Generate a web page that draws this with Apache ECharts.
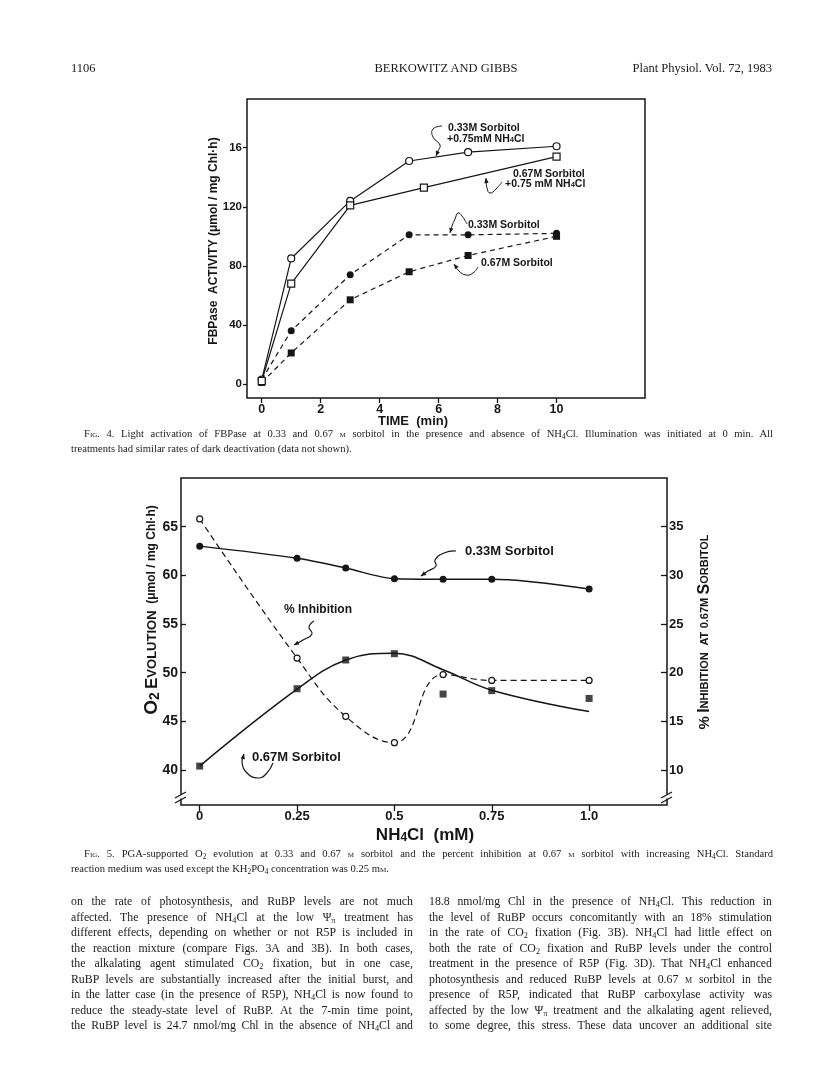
<!DOCTYPE html>
<html>
<head>
<meta charset="utf-8">
<script src="https://cdn.jsdelivr.net/npm/echarts@6.0.0/dist/echarts.min.js"></script>
<style>
body { margin: 0; background: #fff; }
#page { position: relative; width: 816px; height: 1073px; overflow: hidden; font-family: "Liberation Serif", "DejaVu Serif", serif; color: #1a1a1a; }
#chart { position: absolute; left: 0; top: 0; width: 816px; height: 1073px; }
.t, .jl { position: absolute; white-space: nowrap; z-index: 2; }
.cap { font-size: 10.6px; line-height: 14px; }
.body { font-size: 11.8px; line-height: 15px; }
.hd { font-size: 12.5px; line-height: 15px; }
sub { font-size: 70%; vertical-align: -0.25em; line-height: 0; }
.sc { font-variant: small-caps; }
</style>
</head>
<body>
<div id="page">
  <div id="chart"></div>

  <div class="t hd" style="left:71px; top:61px;">1106</div>
  <div class="t hd" style="left:346px; top:61px; width:200px; text-align:center;">BERKOWITZ AND GIBBS</div>
  <div class="t hd" style="left:572px; top:61px; width:200px; text-align:right;">Plant Physiol. Vol. 72, 1983</div>

  <div class="jl cap" data-w="689" style="left:84px; top:427px;"><span><span class="sc">Fig.</span> 4. Light activation of FBPase at 0.33 and 0.67 <span class="sc">m</span> sorbitol in the presence and absence of NH<sub>4</sub>Cl. Illumination was initiated at 0 min. All</span></div>
  <div class="t cap" style="left:71px; top:442px;">treatments had similar rates of dark deactivation (data not shown).</div>

  <div class="jl cap" data-w="689" style="left:84px; top:847px;"><span><span class="sc">Fig.</span> 5. PGA-supported O<sub>2</sub> evolution at 0.33 and 0.67 <span class="sc">m</span> sorbitol and the percent inhibition at 0.67 <span class="sc">m</span> sorbitol with increasing NH<sub>4</sub>Cl. Standard</span></div>
  <div class="t cap" style="left:71px; top:862px;">reaction medium was used except the KH<sub>2</sub>PO<sub>4</sub> concentration was 0.25 m<span class="sc">m</span>.</div>

  <div id="colL"></div>
  <div id="colR"></div>
</div>

<script>
// 正文两栏，每行单独排版
var leftLines = [
  'on the rate of photosynthesis, and RuBP levels are not much',
  'affected. The presence of NH<sub>4</sub>Cl at the low &Psi;<sub>&pi;</sub> treatment has',
  'different effects, depending on whether or not R5P is included in',
  'the reaction mixture (compare Figs. 3A and 3B). In both cases,',
  'the alkalating agent stimulated CO<sub>2</sub> fixation, but in one case,',
  'RuBP levels are substantially increased after the initial burst, and',
  'in the latter case (in the presence of R5P), NH<sub>4</sub>Cl is now found to',
  'reduce the steady-state level of RuBP. At the 7-min time point,',
  'the RuBP level is 24.7 nmol/mg Chl in the absence of NH<sub>4</sub>Cl and'
];
var rightLines = [
  '18.8 nmol/mg Chl in the presence of NH<sub>4</sub>Cl. This reduction in',
  'the level of RuBP occurs concomitantly with an 18% stimulation',
  'in the rate of CO<sub>2</sub> fixation (Fig. 3B). NH<sub>4</sub>Cl had little effect on',
  'both the rate of CO<sub>2</sub> fixation and RuBP levels under the control',
  'treatment in the presence of R5P (Fig. 3D). That NH<sub>4</sub>Cl enhanced',
  'photosynthesis and reduced RuBP levels at 0.67 <span class="sc">m</span> sorbitol in the',
  'presence of R5P, indicated that RuBP carboxylase activity was',
  'affected by the low &Psi;<sub>&pi;</sub> treatment and the alkalating agent relieved,',
  'to some degree, this stress. These data uncover an additional site'
];

// 图4 FBPase 活性
var timeMin = [0, 1, 3, 5, 7, 10];
var fbp033NH4 = [3, 85, 124, 151, 157, 161];
var time067NH4 = [0, 1, 3, 5.5, 10];
var fbp067NH4 = [2, 68, 121, 133, 154];
var fbp033 = [3, 36, 74, 101, 101, 102];
var fbp067 = [1, 21, 57, 76, 87, 100];
var fig4XTicks = [0, 2, 4, 6, 8, 10];
var fig4YTicks = [0, 40, 80, 120, 160];

// 图5 O2 释放与抑制率
var nh4cl = [0, 0.25, 0.375, 0.5, 0.625, 0.75, 1.0];
var o2Sorb033 = [63.0, 61.75, 60.75, 59.65, 59.6, 59.6, 58.6];
var o2Sorb067 = [40.4, 48.35, 51.3, 51.95, 47.8, 48.15, 47.35];
var o2Sorb067Fit = [40.4, 48.3, 51.3, 52.0, 50.3, 48.2, 46.0];
var inhibition = [35.8, 21.5, 15.5, 12.8, 19.8, 19.2, 19.2];
var fig5XTicks = [0, 0.25, 0.5, 0.75, 1.0];
var fig5YTicks = [40, 45, 50, 55, 60, 65];
var fig5Y2Ticks = [10, 15, 20, 25, 30, 35];

function addLines(id, lines, left, width, top0, step) {
    var box = document.getElementById(id);
    lines.forEach(function (s, i) {
        var d = document.createElement('div');
        d.className = 'jl body';
        d.setAttribute('data-w', width);
        d.style.left = left + 'px';
        d.style.top = (top0 + i * step) + 'px';
        d.innerHTML = '<span>' + s + '</span>';
        box.appendChild(d);
    });
}
addLines('colL', leftLines, 71, 342, 894, 15.5);
addLines('colR', rightLines, 429, 343, 894, 15.5);

// 两端对齐：调整词距
document.querySelectorAll('.jl').forEach(function (d) {
    var sp = d.firstChild;
    var w = sp.getBoundingClientRect().width;
    var n = sp.textContent.split(' ').length - 1;
    var target = +d.getAttribute('data-w');
    if (n > 0) sp.style.wordSpacing = ((target - w) / n) + 'px';
});

var SANS = '"Liberation Sans", Arial, Helvetica, sans-serif';
var INK = '#161616';

function pairs(xs, ys) {
    return xs.map(function (x, i) { return [x, ys[i]]; });
}

// 弯曲箭头
function squiggle(pts, w) {
    var n = pts.length, a = pts[n - 1], b = pts[n - 2];
    var ang = Math.atan2(a[1] - b[1], a[0] - b[0]);
    var L = 5, W = 2.2;
    var c = Math.cos(ang), s = Math.sin(ang);
    var head = [a, [a[0] - L * c + W * s, a[1] - L * s - W * c], [a[0] - L * c - W * s, a[1] - L * s + W * c]];
    return [
        { type: 'polyline', z: 100, shape: { points: pts, smooth: 0.5 }, style: { stroke: INK, lineWidth: w || 1, fill: null } },
        { type: 'polygon', z: 100, shape: { points: head }, style: { fill: INK } }
    ];
}

function label(x, y, text, size) {
    var r = { s: { fontSize: size * 0.72, fontWeight: 'bold', fontFamily: SANS, lineHeight: size * 0.55, verticalAlign: 'bottom', fill: INK },
              t: { fontSize: size, fontWeight: 'bold', fontFamily: SANS, lineHeight: size, fill: INK } };
    return { type: 'text', z: 100, x: x, y: y,
        style: { text: text, rich: r, align: 'left', verticalAlign: 'middle', fill: INK, font: 'bold ' + size + 'px ' + SANS } };
}

function breakMark(x, y) {
    return [
        { type: 'rect', z: 100, shape: { x: x - 3, y: y - 2.5, width: 6, height: 4 }, style: { fill: '#fff' } },
        { type: 'line', z: 101, shape: { x1: x - 6, y1: y + 1, x2: x + 5, y2: y - 5 }, style: { stroke: INK, lineWidth: 1.2 } },
        { type: 'line', z: 101, shape: { x1: x - 6, y1: y + 6, x2: x + 5, y2: y }, style: { stroke: INK, lineWidth: 1.2 } }
    ];
}

var labelStyle = { color: INK, fontFamily: SANS, fontWeight: 'bold' };
var noLine = { show: false, onZero: false };

var chart = echarts.init(document.getElementById('chart'));

var graphics = [
    // 图4 坐标轴标题
    { type: 'text', z: 100, x: 214, y: 241, rotation: Math.PI / 2,
      style: { text: 'FBPase  ACTIVITY (\u03bcmol / mg Chl\u00b7h)', font: 'bold 12px ' + SANS, fill: INK, align: 'center', verticalAlign: 'middle' } },
    { type: 'text', z: 100, x: 413, y: 421,
      style: { text: 'TIME  (min)', font: 'bold 13px ' + SANS, fill: INK, align: 'center', verticalAlign: 'middle' } },
    // 图4 标注
    label(448, 128, '{t|0.33M Sorbitol}', 10.5),
    label(447, 139, '{t|+0.75mM NH}{s|4}{t|Cl}', 10.5),
    label(513, 174, '{t|0.67M Sorbitol}', 10.5),
    label(505, 184, '{t|+0.75 mM NH}{s|4}{t|Cl}', 10.5),
    label(468, 225, '{t|0.33M Sorbitol}', 10.5),
    label(481, 263, '{t|0.67M Sorbitol}', 10.5),
    // 图5 坐标轴标题
    { type: 'text', z: 100, x: 152, y: 610, rotation: Math.PI / 2,
      style: { text: '{o|O}{s|2} {b|E}{c|VOLUTION}  {p|(\u03bcmol / mg Chl\u00b7h)}', align: 'center', verticalAlign: 'middle',
        rich: {
            o: { fontSize: 19, fontWeight: 'bold', fontFamily: SANS, fill: INK, lineHeight: 20 },
            s: { fontSize: 14, fontWeight: 'bold', fontFamily: SANS, fill: INK, lineHeight: 12, verticalAlign: 'bottom' },
            b: { fontSize: 17, fontWeight: 'bold', fontFamily: SANS, fill: INK, lineHeight: 20 },
            c: { fontSize: 13, fontWeight: 'bold', fontFamily: SANS, fill: INK, lineHeight: 20 },
            p: { fontSize: 12, fontWeight: 'bold', fontFamily: SANS, fill: INK, lineHeight: 20 }
        } } },
    { type: 'text', z: 100, x: 705, y: 632, rotation: Math.PI / 2,
      style: { text: '{p|%} {b|I}{c|NHIBITION}  {c|AT} {c|0.67M} {b|S}{c|ORBITOL}', align: 'center', verticalAlign: 'middle',
        rich: {
            p: { fontSize: 15, fontWeight: 'bold', fontFamily: SANS, fill: INK, lineHeight: 18 },
            b: { fontSize: 16, fontWeight: 'bold', fontFamily: SANS, fill: INK, lineHeight: 18 },
            c: { fontSize: 11, fontWeight: 'bold', fontFamily: SANS, fill: INK, lineHeight: 18 }
        } } },
    { type: 'text', z: 100, x: 425, y: 835,
      style: { text: '{t|NH}{s|4}{t|Cl  (mM)}', align: 'center', verticalAlign: 'middle',
        rich: {
            t: { fontSize: 17, fontWeight: 'bold', fontFamily: SANS, fill: INK, lineHeight: 18 },
            s: { fontSize: 12, fontWeight: 'bold', fontFamily: SANS, fill: INK, lineHeight: 10, verticalAlign: 'bottom' }
        } } },
    // 图5 标注
    label(465, 551, '{t|0.33M Sorbitol}', 13),
    label(284, 610, '{t|% Inhibition}', 12),
    label(252, 757, '{t|0.67M Sorbitol}', 13)
];
graphics = graphics
    .concat(squiggle([[442, 126], [433, 129], [433, 137], [440, 145], [438, 151], [436, 156]]))
    .concat(squiggle([[502, 182], [496, 189], [490, 193], [487, 188], [486, 178]]))
    .concat(squiggle([[467, 224], [462, 216], [458, 213], [455, 219], [452, 226], [450, 233]]))
    .concat(squiggle([[478, 267], [473, 273], [466, 275], [459, 271], [454, 264]]))
    .concat(squiggle([[456, 551], [444, 553], [435, 560], [436, 566], [428, 571], [421, 576]], 1.2))
    .concat(squiggle([[314, 621], [309, 627], [312, 634], [303, 640], [294, 645]], 1.2))
    .concat(squiggle([[273, 763], [266, 774], [258, 778], [247, 773], [242, 762], [244, 754]], 1.2))
    .concat(breakMark(181, 797))
    .concat(breakMark(667, 797));

var option = {
    backgroundColor: '#fff',
    animation: false,
    grid: [
        { left: 247, top: 99, width: 398, height: 299, show: true, borderColor: INK, borderWidth: 1.5 },
        { left: 181, top: 478, width: 486, height: 327, show: true, borderColor: INK, borderWidth: 1.5 }
    ],
    xAxis: [
        { gridIndex: 0, type: 'value', min: -0.5, max: 13, position: 'bottom',
          axisLine: noLine, splitLine: { show: false },
          axisTick: { length: 5, lineStyle: { color: INK, width: 1.3 }, customValues: fig4XTicks },
          axisLabel: Object.assign({ customValues: fig4XTicks, fontSize: 12.5, margin: 5 }, labelStyle) },
        { gridIndex: 1, type: 'value', min: -0.048, max: 1.2, position: 'bottom',
          axisLine: noLine, splitLine: { show: false },
          axisTick: { length: 6, lineStyle: { color: INK, width: 1.3 }, customValues: fig5XTicks },
          axisLabel: Object.assign({ customValues: fig5XTicks, fontSize: 13, margin: 5,
              formatter: function (v) { return v === 1 ? '1.0' : String(v); } }, labelStyle) }
    ],
    yAxis: [
        { gridIndex: 0, type: 'value', min: -9.5, max: 193, position: 'left',
          axisLine: noLine, splitLine: { show: false },
          axisTick: { length: 4, lineStyle: { color: INK, width: 1.3 }, customValues: fig4YTicks },
          axisLabel: Object.assign({ customValues: fig4YTicks, fontSize: 11.5, margin: 5,
              formatter: function (v) { return v === 160 ? '16' : String(v); } }, labelStyle) },
        { gridIndex: 1, type: 'value', position: 'left', min: 36.4, max: 70,
          axisLine: noLine, splitLine: { show: false },
          axisTick: { inside: true, length: 5, lineStyle: { color: INK, width: 1.3 }, customValues: fig5YTicks },
          axisLabel: Object.assign({ customValues: fig5YTicks, fontSize: 14, margin: 3 }, labelStyle) },
        { gridIndex: 1, type: 'value', position: 'right', min: 6.4, max: 40,
          axisLine: noLine, splitLine: { show: false },
          axisTick: { inside: true, length: 6, lineStyle: { color: INK, width: 1.3 }, customValues: fig5Y2Ticks },
          axisLabel: Object.assign({ customValues: fig5Y2Ticks, fontSize: 13, margin: 2 }, labelStyle) }
    ],
    series: [
        { name: '0.33M Sorbitol +0.75mM NH4Cl', type: 'line', xAxisIndex: 0, yAxisIndex: 0,
          data: pairs(timeMin, fbp033NH4), symbol: 'circle', symbolSize: 7, z: 5,
          itemStyle: { color: '#fff', borderColor: INK, borderWidth: 1.2 },
          lineStyle: { color: INK, width: 1.2 } },
        { name: '0.67M Sorbitol +0.75 mM NH4Cl', type: 'line', xAxisIndex: 0, yAxisIndex: 0,
          data: pairs(time067NH4, fbp067NH4), symbol: 'rect', symbolSize: 7, z: 5,
          itemStyle: { color: '#fff', borderColor: INK, borderWidth: 1.2 },
          lineStyle: { color: INK, width: 1.2 } },
        { name: '0.33M Sorbitol', type: 'line', xAxisIndex: 0, yAxisIndex: 0,
          data: pairs(timeMin, fbp033), symbol: 'circle', symbolSize: 7, z: 4,
          itemStyle: { color: INK },
          lineStyle: { color: INK, width: 1.2, type: [5, 4] } },
        { name: '0.67M Sorbitol', type: 'line', xAxisIndex: 0, yAxisIndex: 0,
          data: pairs(timeMin, fbp067), symbol: 'rect', symbolSize: 7, z: 4,
          itemStyle: { color: INK },
          lineStyle: { color: INK, width: 1.2, type: [5, 4] } },

        { name: '0.33M Sorbitol O2', type: 'line', xAxisIndex: 1, yAxisIndex: 1, smooth: 0.3,
          data: pairs(nh4cl, o2Sorb033), symbol: 'circle', symbolSize: 7, z: 4,
          itemStyle: { color: INK }, lineStyle: { color: INK, width: 1.5 } },
        { name: '0.67M Sorbitol fit', type: 'line', xAxisIndex: 1, yAxisIndex: 1, smooth: 0.4,
          data: pairs(nh4cl, o2Sorb067Fit), showSymbol: false, z: 3,
          lineStyle: { color: INK, width: 1.5 } },
        { name: '0.67M Sorbitol O2', type: 'scatter', xAxisIndex: 1, yAxisIndex: 1,
          data: pairs(nh4cl, o2Sorb067), symbol: 'rect', symbolSize: 7, z: 4,
          itemStyle: { color: INK } },
        { name: '% Inhibition', type: 'line', xAxisIndex: 1, yAxisIndex: 2, smooth: 0.45,
          data: pairs(nh4cl, inhibition), symbol: 'circle', symbolSize: 6, z: 5,
          itemStyle: { color: '#fff', borderColor: INK, borderWidth: 1.2 },
          lineStyle: { color: INK, width: 1.2, type: [6, 4] } }
    ],
    graphic: graphics
};

chart.setOption(option);
</script>
</body>
</html>
